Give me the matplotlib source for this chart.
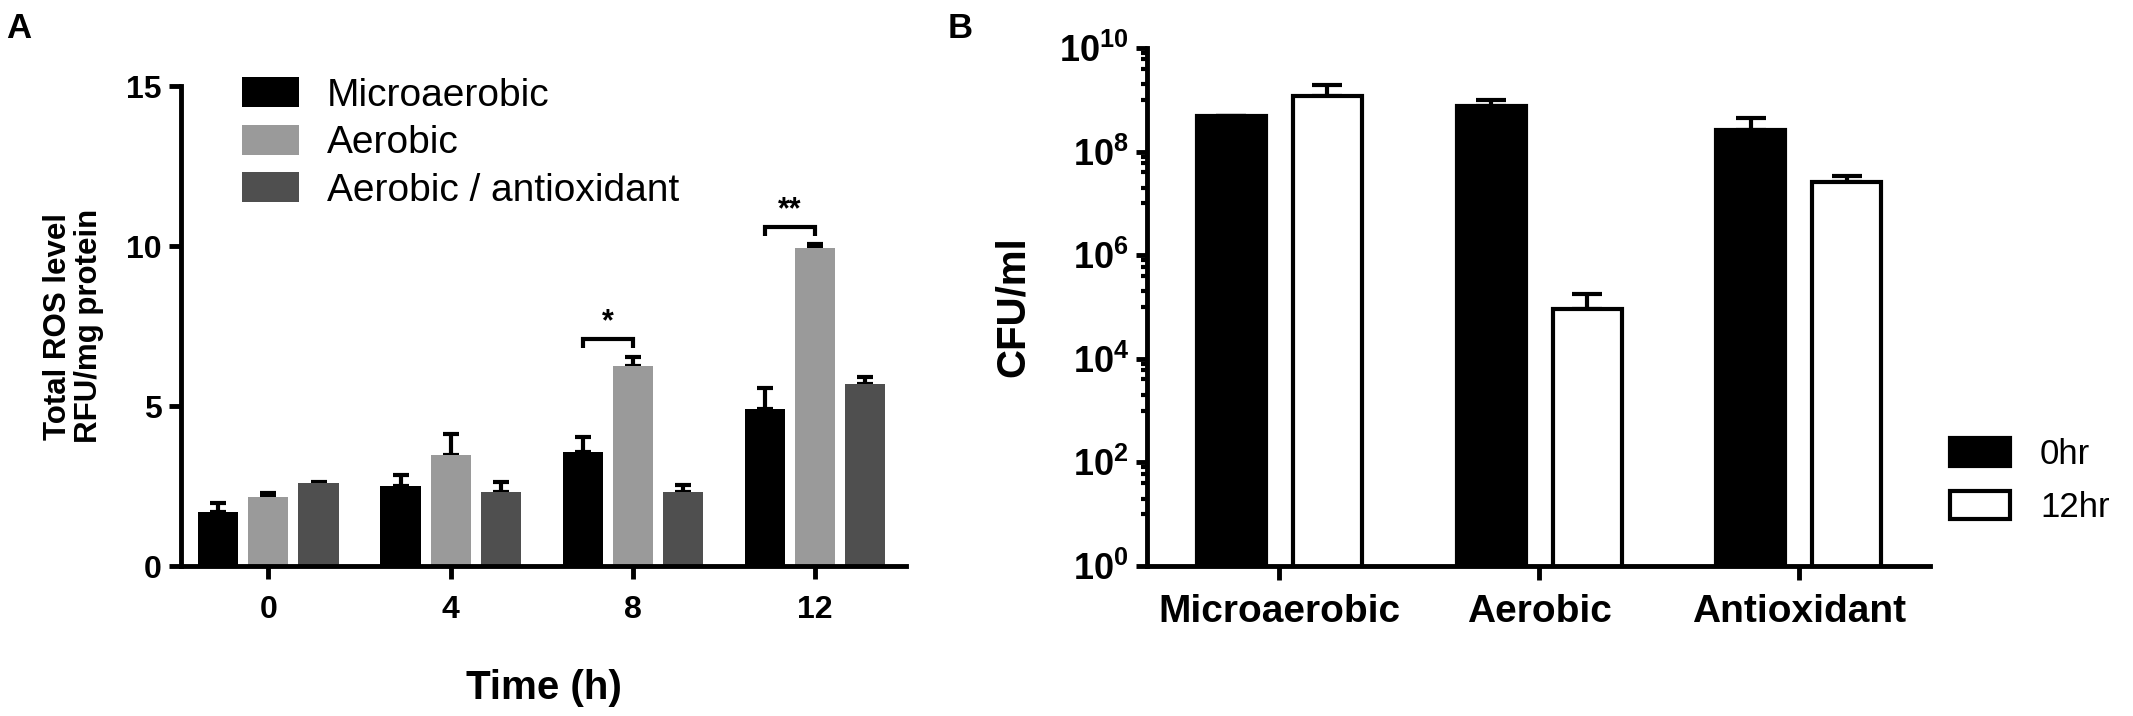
import numpy as np
import matplotlib
matplotlib.use("Agg")
import matplotlib.pyplot as plt
from matplotlib.patches import Patch
from matplotlib.ticker import FixedLocator, FuncFormatter, NullFormatter

plt.rcParams['font.family'] = ['Liberation Sans', 'DejaVu Sans']
plt.rcParams['mathtext.fontset'] = 'custom'
plt.rcParams['mathtext.default'] = 'bf'
plt.rcParams['mathtext.bf'] = 'Liberation Sans:bold'
plt.rcParams['mathtext.rm'] = 'Liberation Sans:bold'

# panel A: total ROS level
times = ['0', '4', '8', '12']
ros_groups = ['Microaerobic', 'Aerobic', 'Aerobic / antioxidant']
ros_micro = [1.70, 2.50, 3.55, 4.90]
ros_micro_err = [0.28, 0.33, 0.47, 0.65]
ros_aero = [2.15, 3.47, 6.25, 9.93]
ros_aero_err = [0.12, 0.67, 0.27, 0.13]
ros_anti = [2.58, 2.32, 2.30, 5.70]
ros_anti_err = [0.05, 0.31, 0.23, 0.22]
sig_marks = [(2, '*', 7.1), (3, '**', 10.6)]   # (time index, label, bracket height)

# panel B: CFU counts
conditions = ['Microaerobic', 'Aerobic', 'Antioxidant']
cfu_0hr = [4.8e8, 7.6e8, 2.6e8]
cfu_0hr_err = [0, 2.4e8, 1.9e8]
cfu_12hr = [1.2e9, 9.1e4, 2.6e7]
cfu_12hr_err = [0.7e9, 9.0e4, 0.8e7]

W, H = 2133, 716
fig = plt.figure(figsize=(W / 100, H / 100), dpi=100)


def px_axes(l, t, r, b):
    return fig.add_axes([l / W, 1 - b / H, (r - l) / W, (b - t) / H])


def style_axes(ax):
    for s in ['top', 'right']:
        ax.spines[s].set_visible(False)
    for s in ['left', 'bottom']:
        ax.spines[s].set_linewidth(3.5)
        ax.spines[s].set_capstyle('projecting')


# ---------- A ----------
axA = px_axes(181, 86, 906, 566)
style_axes(axA)
x = np.arange(len(times))
bw = 0.22
off = 0.275
cols = ['#000000', '#9a9a9a', '#4f4f4f']
series = [(ros_micro, ros_micro_err), (ros_aero, ros_aero_err), (ros_anti, ros_anti_err)]
for k, (vals, errs) in enumerate(series):
    pos = x + (k - 1) * off
    axA.bar(pos, vals, bw, color=cols[k], label=ros_groups[k], zorder=2)
    axA.errorbar(pos, vals, yerr=[np.zeros(len(errs)), errs], fmt='none', ecolor='black',
                 elinewidth=3, capsize=6, capthick=3, zorder=1)

for i, lab, h in sig_marks:
    x0, x1 = x[i] - off, x[i]
    axA.plot([x0, x0, x1, x1], [h - 0.28, h, h, h - 0.28], color='black', lw=3,
             solid_capstyle='butt', solid_joinstyle='miter')
    axA.text((x0 + x1) / 2, h + 0.05, lab, ha='center', va='bottom', fontsize=22, fontweight='bold')

axA.set_xlim(-0.48, 3.5)
axA.set_ylim(0, 15)
axA.set_xticks(x)
axA.set_xticklabels(times)
axA.set_yticks([0, 5, 10, 15])
axA.tick_params(axis='both', width=3.5, length=9, labelsize=23, direction='out')
axA.tick_params(axis='x', pad=12)
axA.tick_params(axis='y', pad=5)
for t in axA.get_xticklabels() + axA.get_yticklabels():
    t.set_fontweight('bold')
axA.set_xlabel('Time (h)', fontsize=29, fontweight='bold')
axA.xaxis.set_label_coords(0.5, -0.214)
axA.set_ylabel('Total ROS level\nRFU/mg protein', fontsize=22.5, fontweight='bold', linespacing=1.05)
axA.yaxis.set_label_coords(-0.106, 0.5)

handlesA = [Patch(facecolor=c, edgecolor='none') for c in cols]
axA.legend(handlesA, ros_groups, loc='upper left', bbox_to_anchor=(242 / W, 1 - 77 / H),
           bbox_transform=fig.transFigure, frameon=False, fontsize=28, borderpad=0,
           borderaxespad=0, handlelength=1.47, handleheight=0.82, handletextpad=0.72,
           labelspacing=0.28)

# ---------- B ----------
axB = px_axes(1147, 48, 1930, 566)
style_axes(axB)
xb = np.arange(len(conditions))
bwb = 0.266
offb = 0.185
axB.bar(xb - offb, cfu_0hr, bwb, color='black', edgecolor='black', linewidth=3, label='0hr', zorder=2)
axB.bar(xb + offb, cfu_12hr, bwb, color='white', edgecolor='black', linewidth=3, label='12hr', zorder=2)
axB.errorbar(xb - offb, cfu_0hr, yerr=[np.zeros(3), cfu_0hr_err], fmt='none', ecolor='black',
             elinewidth=3, capsize=11, capthick=3, zorder=1)
axB.errorbar(xb + offb, cfu_12hr, yerr=[np.zeros(3), cfu_12hr_err], fmt='none', ecolor='black',
             elinewidth=3, capsize=11, capthick=3, zorder=1)
axB.set_yscale('log')
axB.set_ylim(1, 1e10)
axB.set_xlim(-0.51, 2.505)
axB.yaxis.set_major_locator(FixedLocator([10.0 ** k for k in range(0, 11, 2)]))
minors = [m * 10.0 ** k for k in range(1, 10, 2) for m in (1, 2, 4, 6, 8)]
axB.yaxis.set_minor_locator(FixedLocator(minors))
axB.yaxis.set_minor_formatter(NullFormatter())
axB.yaxis.set_major_formatter(FuncFormatter(lambda v, p: r'$10^{%d}$' % round(np.log10(v))))
axB.set_xticks(xb)
axB.set_xticklabels(conditions)
axB.tick_params(axis='x', width=3.5, length=10, labelsize=28, pad=10)
axB.tick_params(axis='y', which='major', width=3.5, length=8, labelsize=26, pad=5)
axB.tick_params(axis='y', which='minor', width=3, length=4.5)
for t in axB.get_xticklabels():
    t.set_fontweight('bold')
axB.set_ylabel('CFU/ml', fontsize=29, fontweight='bold')
axB.yaxis.set_label_coords(-0.147, 0.5)

axB.legend(loc='upper left', bbox_to_anchor=(1950 / W, 1 - 438 / H), bbox_transform=fig.transFigure,
           frameon=False, fontsize=25, borderpad=0, borderaxespad=0, handlelength=1.73,
           handleheight=0.86, handletextpad=0.86, labelspacing=0.58)

fig.text(6 / W, 1 - 12 / H, 'A', fontsize=25, fontweight='bold', ha='left', va='top')
fig.text(948 / W, 1 - 12 / H, 'B', fontsize=25, fontweight='bold', ha='left', va='top')

fig.savefig('out.png', dpi=100)
